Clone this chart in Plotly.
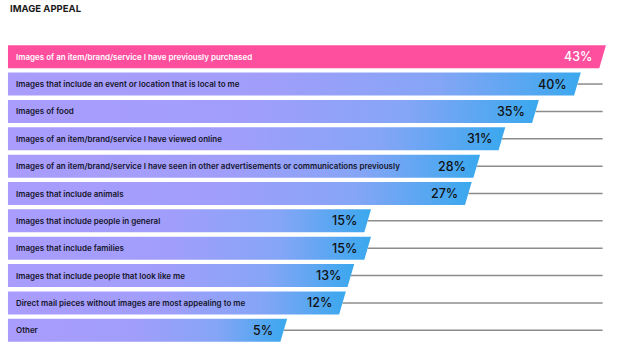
import plotly.graph_objects as go

title = "IMAGE APPEAL"
categories = [
    "Images of an item/brand/service I have previously purchased",
    "Images that include an event or location that is local to me",
    "Images of food",
    "Images of an item/brand/service I have viewed online",
    "Images of an item/brand/service I have seen in other advertisements or communications previously",
    "Images that include animals",
    "Images that include people in general",
    "Images that include families",
    "Images that include people that look like me",
    "Direct mail pieces without images are most appealing to me",
    "Other",
]
values = [43, 40, 35, 31, 28, 27, 15, 15, 13, 12, 5]
highlight = [True] + [False] * 10

BASE = -27.87         # bars start left of zero to leave room for the label
SLANT = 0.4           # half of the slanted right edge, in axis units
HALF = 0.42           # half bar thickness, in category units
line_end = max(values)

fig = go.Figure()

# grey guide lines from each bar end to the max value
for i, v in enumerate(values):
    if v < line_end:
        fig.add_trace(go.Scatter(
            x=[v, line_end], y=[i, i], mode="lines",
            line=dict(color="#8c8c8c", width=1.5),
            hoverinfo="skip", showlegend=False))

# bars (slanted right edge, horizontal gradient)
for i, (v, hl) in enumerate(zip(values, highlight)):
    xs = [BASE, v + SLANT, v - SLANT, BASE, BASE]
    ys = [i - HALF, i - HALF, i + HALF, i + HALF, i - HALF]
    tr = dict(x=xs, y=ys, mode="lines", fill="toself",
              line=dict(width=0), hoverinfo="skip", showlegend=False)
    if hl:
        tr["fillcolor"] = "#fe4f9f"
    else:
        tr["fillgradient"] = dict(
            type="horizontal",
            colorscale=[[0, "#a99cfd"], [0.45, "#a19efb"],
                        [0.75, "#85a5f6"], [1, "#3aa8ee"]])
    fig.add_trace(go.Scatter(**tr))

annotations = []
for i, (c, v, hl) in enumerate(zip(categories, values, highlight)):
    col = "#ffffff" if hl else "#15152a"
    annotations.append(dict(
        x=BASE + 0.72, y=i, xref="x", yref="y", text=c, showarrow=False,
        xanchor="left", yanchor="middle",
        font=dict(family="Inter", size=8.0, color=col, weight=600)))
    annotations.append(dict(
        x=v - 1.0, y=i, xref="x", yref="y", text=f"{v}%", showarrow=False,
        xanchor="right", yanchor="middle",
        font=dict(family="Inter", size=12.5, color="#ffffff" if hl else "#111111",
                  weight=500)))

# title, placed in paper units above the plot area (plot area is 301 px tall)
annotations.append(dict(
    x=8 / 624, y=1 + (43 - 9) / 301, xref="paper", yref="paper",
    text=title, showarrow=False, xanchor="left", yanchor="middle",
    font=dict(family="Inter", size=9.5, color="#1a1a1a", weight=700)))

fig.update_layout(
    width=624, height=363,
    margin=dict(l=0, r=0, t=43, b=19),
    paper_bgcolor="white", plot_bgcolor="white",
    xaxis=dict(range=[-28.82, 45.55], visible=False, fixedrange=True),
    yaxis=dict(range=[10.5, -0.5], visible=False, fixedrange=True),
    annotations=annotations,
    showlegend=False,
)

fig.write_html("out.html", config={"displayModeBar": False},
               post_script="document.body.style.margin='0';")
